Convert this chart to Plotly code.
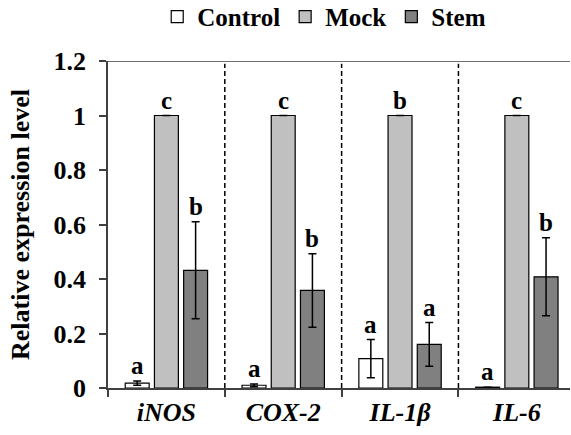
import plotly.graph_objects as go

genes = ["<i>iNOS</i>", "<i>COX-2</i>", "<i>IL-1β</i>", "<i>IL-6</i>"]
series_names = ["Control", "Mock", "Stem"]
control = [0.018, 0.010, 0.108, 0.003]
control_err = [0.008, 0.005, 0.070, 0.0]
mock = [1.0, 1.0, 1.0, 1.0]
mock_err = [0.0, 0.0, 0.0, 0.0]
stem = [0.432, 0.358, 0.160, 0.408]
stem_err = [0.178, 0.135, 0.080, 0.143]
control_letters = ["a", "a", "a", "a"]
mock_letters = ["c", "c", "b", "c"]
stem_letters = ["b", "b", "a", "b"]
y_ticks = [0, 0.2, 0.4, 0.6, 0.8, 1, 1.2]

colors = ["#ffffff", "#c0c0c0", "#808080"]
FONT = "Times New Roman, Liberation Serif, DejaVu Serif, serif"

fig = go.Figure()
all_vals = [control, mock, stem]
all_errs = [control_err, mock_err, stem_err]
all_letters = [control_letters, mock_letters, stem_letters]
for name, vals, errs, col in zip(series_names, all_vals, all_errs, colors):
    fig.add_trace(go.Bar(
        name="<b>%s</b>" % name, x=genes, y=vals,
        marker=dict(color=col, line=dict(color="#000000", width=1.2)),
        error_y=dict(type="data", array=errs, visible=True,
                     color="#000000", thickness=1.5, width=4),
    ))

# significance letters
offsets = [-0.25, 0.0, 0.25]
for si in range(3):
    for gi in range(len(genes)):
        top = all_vals[si][gi] + all_errs[si][gi]
        fig.add_annotation(
            x=gi + offsets[si], y=top, xref="x", yref="y",
            text="<b>%s</b>" % all_letters[si][gi], showarrow=False,
            yanchor="bottom", xanchor="center", yshift=0,
            font=dict(family=FONT, size=25, color="#000000"),
        )

# dashed separators
for b in [0.5, 1.5, 2.5]:
    fig.add_shape(type="line", xref="x", yref="y", x0=b, x1=b, y0=0, y1=1.19,
                  line=dict(color="#000000", width=1.5, dash="5px,3px"))
# top border line
fig.add_shape(type="line", xref="paper", yref="y", x0=0, x1=1, y0=1.2, y1=1.2,
              line=dict(color="#404040", width=1.5))

fig.update_layout(
    width=571, height=435,
    margin=dict(l=108, r=1, t=61, b=47, autoexpand=False),
    paper_bgcolor="#ffffff", plot_bgcolor="#ffffff",
    barmode="group", bargap=0.25, bargroupgap=0.18,
    font=dict(family=FONT, color="#000000"),
    legend=dict(orientation="h", x=0.468, xanchor="center", y=1.135, yanchor="middle",
                font=dict(family=FONT, size=25, color="#000000"),
                itemclick=False, tracegroupgap=0),
    xaxis=dict(type="category", range=[-0.5, 3.455], showline=True,
               linecolor="#404040", linewidth=1.5, ticks="outside",
               tickson="boundaries", ticklen=7, tickcolor="#404040", tickwidth=1.5,
               tickfont=dict(family=FONT, size=26, color="#000000"),
               showgrid=False, zeroline=False),
    yaxis=dict(range=[0, 1.2], tickvals=y_ticks,
               ticktext=["<b>%g</b>" % t for t in y_ticks],
               showline=True, linecolor="#404040", linewidth=1.5,
               ticks="outside", ticklen=7, tickcolor="#404040", tickwidth=1.5,
               ticklabelstandoff=8,
               tickfont=dict(family=FONT, size=26, color="#000000"),
               showgrid=False, zeroline=False,
               title=dict(text="<b>Relative expression level</b>",
                          font=dict(family=FONT, size=26, color="#000000"),
                          standoff=16)),
)
fig.update_xaxes(ticktext=["<b>%s</b>" % g for g in genes], tickvals=genes)

fig.write_html("out.html")
